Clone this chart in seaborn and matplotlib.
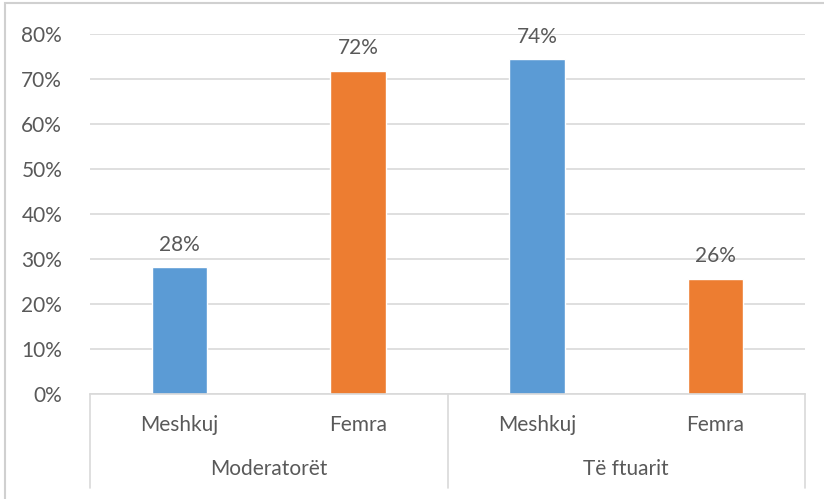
import seaborn as sns
import pandas as pd
import matplotlib.pyplot as plt
from matplotlib.patches import Rectangle
from matplotlib.transforms import blended_transform_factory

# Të dhënat
groups = ["Moderatorët", "Moderatorët", "Të ftuarit", "Të ftuarit"]
genders = ["Meshkuj", "Femra", "Meshkuj", "Femra"]
values = [28.2, 71.8, 74.4, 25.6]
labels = ["28%", "72%", "74%", "26%"]
yticks = [0, 10, 20, 30, 40, 50, 60, 70, 80]

sns.set_style("white")
plt.rcParams["font.family"] = ["Lato", "DejaVu Sans"]
txt = "#595959"
fs = 15

df = pd.DataFrame({"grupi": groups, "gjinia": genders, "vlera": values})
df["poz"] = [f"{g}|{s}" for g, s in zip(groups, genders)]

fig = plt.figure(figsize=(8.24, 4.99), dpi=100)
fig.patches.append(Rectangle((5/824, -0.2), 1.2, 1.2 - 3/499, transform=fig.transFigure,
                             fill=False, edgecolor="#d0d0d0", linewidth=1.5))
ax = fig.add_axes([90/824, 1 - 394/499, 715/824, 360/499])

sns.barplot(data=df, x="poz", y="vlera", hue="gjinia", dodge=False, width=0.31,
            saturation=1, palette={"Meshkuj": "#5B9BD5", "Femra": "#ED7D31"},
            legend=False, ax=ax)

ax.set_ylim(0, 80)
ax.set_xlim(-0.5, 3.5)
ax.set_yticks(yticks)
ax.set_yticklabels([f"{t}%" for t in yticks], fontsize=fs, color=txt)
ax.yaxis.grid(True, color="#d9d9d9", linewidth=1.2)
ax.set_axisbelow(True)
for s in ["top", "right", "left"]:
    ax.spines[s].set_visible(False)
ax.spines["bottom"].set_color("#d9d9d9")
ax.spines["bottom"].set_linewidth(1.2)
ax.tick_params(axis="y", length=0, pad=20)
ax.tick_params(axis="x", length=0, pad=15)
ax.set_xticks(range(len(genders)))
ax.set_xticklabels(genders, fontsize=fs, color=txt)
ax.set_xlabel("")
ax.set_ylabel("")

for i, (v, lab) in enumerate(zip(values, labels)):
    ax.annotate(lab, (i, v), xytext=(0, 9), textcoords="offset points",
                ha="center", va="bottom", fontsize=fs, color=txt)

# Nivel i dytë i kategorive
tr = blended_transform_factory(ax.transData, ax.transAxes)
bottom = -(488 - 394) / 360
for xs in [-0.5, 1.5, 3.5]:
    ax.plot([xs, xs], [0, bottom], transform=tr, color="#d9d9d9", lw=1.2, clip_on=False)
for xc, g in [(0.5, "Moderatorët"), (2.5, "Të ftuarit")]:
    ax.text(xc, -(469 - 394) / 360, g, transform=tr, ha="center", va="center",
            fontsize=fs, color=txt)

plt.savefig("out.png", dpi=100)
